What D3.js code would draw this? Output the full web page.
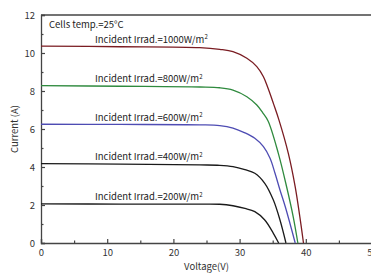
<!DOCTYPE html>
<html><head><meta charset="utf-8">
<script src="https://cdn.jsdelivr.net/npm/d3@7"></script>
<style>body{margin:0;background:#fff;}svg{display:block;font-family:"Noto Sans CJK SC","Noto Sans",sans-serif;}</style>
</head><body><svg id="c" width="371" height="273"></svg>
<script>
const irradiance = ["1000", "800", "600", "400", "200"];
const colors = ["#7a1c22", "#2f8a3e", "#4e4cb3", "#1a1a1a", "#1a1a1a"];
const v1000 = [0, 12, 24, 27.0, 29.0, 31.1, 32.6, 33.6, 34.3, 35.1, 35.95, 37.36, 38.4, 39.1, 39.65];
const i1000 = [10.36, 10.33, 10.28, 10.19, 10.07, 9.72, 9.28, 8.75, 8.14, 7.35, 6.47, 4.72, 2.96, 1.38, 0];
const v800 = [0, 12, 24, 27.0, 29.0, 31.1, 32.6, 33.5, 34.3, 35.85, 37.1, 38.1, 38.8];
const i800 = [8.28, 8.25, 8.21, 8.17, 8.05, 7.7, 7.26, 6.85, 6.42, 4.72, 2.96, 1.38, 0];
const v600 = [0, 12, 24, 27.0, 29.0, 30.8, 32.3, 33.6, 34.6, 35.35, 36.1, 36.9, 37.6, 38.4];
const i600 = [6.25, 6.24, 6.22, 6.18, 6.05, 5.8, 5.51, 5.07, 4.46, 3.67, 2.79, 1.91, 1.04, 0];
const v400 = [0, 12, 24, 27.0, 29.0, 30.8, 32.3, 33.8, 35.1, 36.1, 37.0];
const i400 = [4.18, 4.15, 4.11, 4.09, 4.02, 3.86, 3.67, 3.14, 2.26, 1.21, 0];
const v200 = [0, 12, 24, 27.0, 29.0, 30.8, 32.3, 33.8, 35.1, 35.9];
const i200 = [2.06, 2.05, 2.05, 2.04, 1.96, 1.82, 1.65, 1.21, 0.51, 0];
const xTicks = [0, 10, 20, 30, 40, 50];
const yTicks = [0, 2, 4, 6, 8, 10, 12];

const series = [[v1000,i1000],[v800,i800],[v600,i600],[v400,i400],[v200,i200]];
const svg = d3.select("#c");
const L = 41, T = 15, R = 372, B = 243;
const x = d3.scaleLinear().domain([0, 50]).range([L, R]);
const y = d3.scaleLinear().domain([0, 12]).range([B, T]);
const axisCol = "#444";

svg.append("line").attr("x1", L).attr("x2", R + 5).attr("y1", T).attr("y2", T)
  .attr("stroke", axisCol).attr("stroke-width", 1.3);
svg.append("line").attr("x1", R).attr("x2", R).attr("y1", T).attr("y2", B)
  .attr("stroke", axisCol).attr("stroke-width", 1.3);

const xAx = svg.append("g").attr("transform", `translate(0,${B})`)
  .call(d3.axisBottom(x).tickValues(d3.range(0, 51, 5)).tickSize(-4).tickPadding(6)
    .tickFormat(d => xTicks.includes(d) ? d : ""));
xAx.selectAll(".tick line").attr("y2", d => d % 10 === 0 ? -4 : -2.5);
const yAx = svg.append("g").attr("transform", `translate(${L},0)`)
  .call(d3.axisLeft(y).tickValues(d3.range(0, 13, 1)).tickSize(-4).tickPadding(6)
    .tickFormat(d => yTicks.includes(d) ? d : ""));
yAx.selectAll(".tick line").attr("x2", d => d % 2 === 0 ? 4 : 2.5);
[xAx, yAx].forEach(g => {
  g.select(".domain").attr("stroke", axisCol).attr("stroke-width", 1.3);
  g.selectAll(".tick line").attr("stroke", axisCol).attr("stroke-width", 1.2);
  g.selectAll("text").attr("fill", "#333").style("font-size", "9.5px")
    .style("font-family", '"Noto Sans CJK SC","Noto Sans",sans-serif');
});

const line = d3.line().x(d => x(d[0])).y(d => y(d[1])).curve(d3.curveCatmullRom.alpha(0.5));
series.forEach((s, k) => {
  const pts = s[0].map((v, j) => [v, s[1][j]]);
  svg.append("path").datum(pts).attr("d", line).attr("fill", "none")
    .attr("stroke", colors[k]).attr("stroke-width", 1.3);
  const t = svg.append("text").attr("x", 95).attr("y", y(s[1][0]) - 3.5)
    .attr("fill", "#222").style("font-size", "9.5px")
    .text(`Incident Irrad.=${irradiance[k]}W/m`);
  t.append("tspan").attr("dy", -3.5).style("font-size", "6px").text("2");
});

svg.append("text").attr("x", 49).attr("y", 28).attr("fill", "#222").style("font-size", "9.5px")
  .text("Cells temp.=25°C");
svg.append("text").attr("transform", `translate(18,${(T + B) / 2}) rotate(-90)`)
  .attr("text-anchor", "middle").attr("fill", "#333").style("font-size", "9.5px").text("Current (A)");
svg.append("text").attr("x", (L + R) / 2).attr("y", 270).attr("text-anchor", "middle")
  .attr("fill", "#333").style("font-size", "9.5px").text("Voltage(V)");
</script></body></html>
